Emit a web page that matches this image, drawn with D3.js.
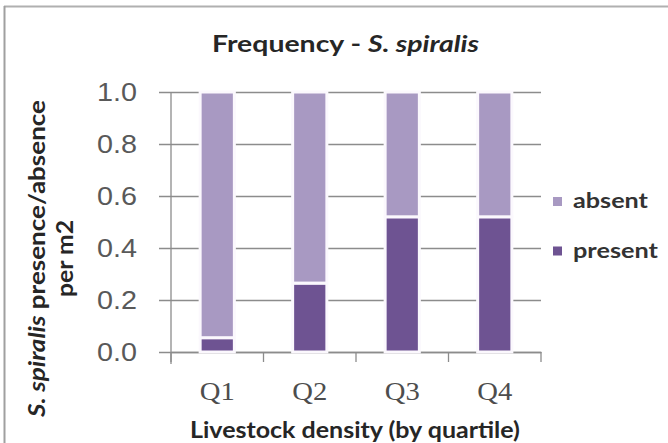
<!DOCTYPE html>
<html><head><meta charset="utf-8">
<script src="https://cdn.jsdelivr.net/npm/d3@7"></script>
<style>body{margin:0;background:#fff}svg{display:block}</style>
</head><body>
<svg id="c" width="668" height="443"></svg>
<script>
const categories = ["Q1","Q2","Q3","Q4"];
const present = [0.055, 0.265, 0.52, 0.52];
const absent = [0.945, 0.735, 0.48, 0.48];
const seriesNames = ["present","absent"];
const yTicks = [0,0.2,0.4,0.6,0.8,1.0];

const colors = {present:"#6e5392", absent:"#a899c2"};
const font = "Lato, 'Open Sans', sans-serif";
const svg = d3.select("#c");

// chart frame (top & left edges visible)
svg.append("line").attr("x1",4).attr("x2",668).attr("y1",6.5).attr("y2",6.5).attr("stroke","#b0b0b0").attr("stroke-width",2);
svg.append("line").attr("x1",4.5).attr("x2",4.5).attr("y1",6).attr("y2",443).attr("stroke","#a0a0a0").attr("stroke-width",2);

const L=171, R=541, T=92, B=352;
const x = d3.scaleBand().domain(categories).range([L,R]).paddingInner(0.63).paddingOuter(0.315);
const y = d3.scaleLinear().domain([0,1]).range([B,T]);

// gridlines + left ticks
const gy = svg.append("g").attr("transform",`translate(${L},0)`)
  .call(d3.axisLeft(y).tickValues(yTicks).tickSize(-(R-L)).tickFormat(d3.format(".1f")));
gy.select(".domain").remove();
gy.selectAll(".tick line").attr("stroke","#8c8c8c").attr("stroke-width",1.3).attr("x1",-12);
gy.selectAll(".tick text").attr("font-family","Liberation Sans, Arial, sans-serif").attr("font-size",25)
  .attr("fill","#595959").attr("x",-34).attr("text-anchor","end")
  .attr("textLength",40).attr("lengthAdjust","spacingAndGlyphs");

// y axis line
svg.append("line").attr("x1",L).attr("x2",L).attr("y1",T).attr("y2",B+12).attr("stroke","#8c8c8c").attr("stroke-width",1.3);

// x axis
const gx = svg.append("g").attr("transform",`translate(0,${B})`)
  .call(d3.axisBottom(x).tickSize(0).tickPadding(0));
gx.select(".domain").attr("stroke","#8c8c8c").attr("stroke-width",1.3);
gx.selectAll(".tick text").attr("font-family","Liberation Serif, 'Times New Roman', serif").attr("font-size",25)
  .attr("fill","#4d4d4d").attr("dy",null).attr("y",48)
  .attr("textLength",35).attr("lengthAdjust","spacingAndGlyphs");
// category boundary ticks
const bounds = d3.range(categories.length+1).map(i => L + i*(R-L)/categories.length);
svg.append("g").selectAll("line").data(bounds).join("line")
  .attr("x1",d=>d).attr("x2",d=>d).attr("y1",B).attr("y2",B+10)
  .attr("stroke","#8c8c8c").attr("stroke-width",1.3);

// stacked bars
const rows = categories.map((c,i)=>({cat:c, present:present[i], absent:absent[i]}));
const stack = d3.stack().keys(seriesNames)(rows);
svg.append("g").selectAll("g").data(stack).join("g")
  .attr("fill",d=>colors[d.key])
  .selectAll("rect").data(d=>d).join("rect")
  .attr("x",d=>x(d.data.cat)).attr("width",x.bandwidth())
  .attr("y",d=>y(d[1])).attr("height",d=>y(d[0])-y(d[1]))
  .attr("stroke","#fbf8fd").attr("stroke-width",3);

// title
const title = svg.append("text").attr("x",212).attr("y",52)
  .attr("font-family",font).attr("font-weight","bold").attr("font-size",23).attr("fill","#262626")
  .attr("textLength",267).attr("lengthAdjust","spacingAndGlyphs");
title.append("tspan").text("Frequency - ");
title.append("tspan").attr("font-style","italic").text("S. spiralis");

// y title
const yt = svg.append("g").attr("transform","translate(0,258.5) rotate(-90)");
const t1 = yt.append("text").attr("x",0).attr("y",45).attr("text-anchor","middle")
  .attr("font-family",font).attr("font-weight","bold").attr("font-size",22).attr("fill","#262626")
  .attr("textLength",317).attr("lengthAdjust","spacingAndGlyphs");
t1.append("tspan").attr("font-style","italic").text("S. spiralis");
t1.append("tspan").text(" presence/absence");
yt.append("text").attr("x",0).attr("y",73).attr("text-anchor","middle")
  .attr("font-family",font).attr("font-weight","bold").attr("font-size",22).attr("fill","#262626")
  .attr("textLength",77).attr("lengthAdjust","spacingAndGlyphs").text("per m2");

// x title
svg.append("text").attr("x",190).attr("y",438)
  .attr("font-family",font).attr("font-weight","bold").attr("font-size",22).attr("fill","#262626")
  .attr("textLength",330).attr("lengthAdjust","spacingAndGlyphs")
  .text("Livestock density (by quartile)");

// legend
const legItems = ["absent","present"];
const legWidths = {absent:75, present:85};
const leg = svg.append("g");
legItems.forEach((k,i)=>{
  const base = 208 + i*49.5;
  leg.append("rect").attr("x",553).attr("y",base-11).attr("width",9).attr("height",9).attr("fill",colors[k]);
  leg.append("text").attr("x",573).attr("y",base)
    .attr("font-family",font).attr("font-weight","bold").attr("font-size",20).attr("fill","#333")
    .attr("textLength",legWidths[k]).attr("lengthAdjust","spacingAndGlyphs").text(k);
});
</script>
</body></html>
